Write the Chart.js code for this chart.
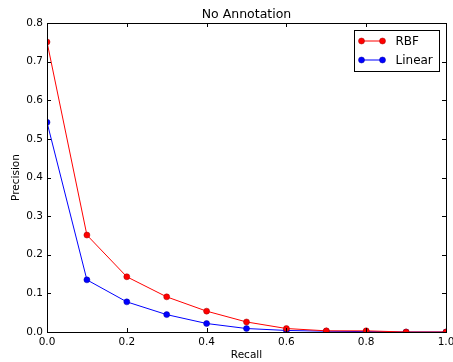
<!DOCTYPE html>
<html>
<head>
<meta charset="utf-8">
<script src="https://cdn.jsdelivr.net/npm/chart.js@4/dist/chart.umd.min.js"></script>
<style>
  html, body { margin: 0; padding: 0; background: #fff; }
  canvas { display: block; }
</style>
</head>
<body>
<canvas id="prChart" width="453" height="362"></canvas>
<script>
// ==================== DATA ====================
const recall = [0.0, 0.1, 0.2, 0.3, 0.4, 0.5, 0.6, 0.7, 0.8, 0.9, 1.0];
const rbfPrecision = [0.751, 0.251, 0.143, 0.091, 0.054, 0.026, 0.009, 0.003, 0.003, 0.0, 0.0];
const linearPrecision = [0.543, 0.135, 0.078, 0.045, 0.022, 0.009, 0.004, 0.002, 0.001, 0.0, 0.0];
const xTicks = [0.0, 0.2, 0.4, 0.6, 0.8, 1.0];
const yTicks = [0.0, 0.1, 0.2, 0.3, 0.4, 0.5, 0.6, 0.7, 0.8];
const seriesLabels = ['RBF', 'Linear'];
const seriesColors = ['#ff0000', '#0000ff'];
const markerEdges = ['#a00000', '#0000a0'];
const chartTitle = 'No Annotation';

const FONT = "'DejaVu Sans', sans-serif";

// matplotlib-ish frame, inward ticks on all four sides, title and legend
const mplFrame = {
  id: 'mplFrame',
  afterDatasetsDraw(chart) {
    const { ctx, chartArea: a, scales } = chart;
    const tick = 4;
    ctx.save();
    ctx.strokeStyle = '#000';
    ctx.lineWidth = 1;
    ctx.beginPath();
    xTicks.forEach(v => {
      const x = Math.round(scales.x.getPixelForValue(v)) + 0.5;
      ctx.moveTo(x, a.bottom); ctx.lineTo(x, a.bottom - tick);
      ctx.moveTo(x, a.top); ctx.lineTo(x, a.top + tick);
    });
    yTicks.forEach(v => {
      const y = Math.round(scales.y.getPixelForValue(v)) + 0.5;
      ctx.moveTo(a.left, y); ctx.lineTo(a.left + tick, y);
      ctx.moveTo(a.right, y); ctx.lineTo(a.right - tick, y);
    });
    ctx.stroke();
    ctx.strokeRect(Math.round(a.left) + 0.5, Math.round(a.top) + 0.5,
      Math.round(a.right - a.left), Math.round(a.bottom - a.top));

    // title
    ctx.fillStyle = '#000';
    ctx.font = `12.5px ${FONT}`;
    ctx.textAlign = 'center';
    ctx.textBaseline = 'middle';
    ctx.fillText(chartTitle, (a.left + a.right) / 2, 15);

    // legend
    const bw = 85, bh = 41;
    const bx = Math.round(a.right - 7 - bw) + 0.5, by = Math.round(a.top + 7) + 0.5;
    ctx.fillStyle = '#fff';
    ctx.fillRect(bx, by, bw, bh);
    ctx.strokeRect(bx, by, bw, bh);
    seriesLabels.forEach((lbl, i) => {
      const ry = by + 10.5 + i * 19;
      ctx.strokeStyle = seriesColors[i];
      ctx.beginPath();
      ctx.moveTo(bx + 7, ry); ctx.lineTo(bx + 28, ry);
      ctx.stroke();
      [bx + 7, bx + 28].forEach(px => {
        ctx.beginPath();
        ctx.arc(px, ry, 3, 0, Math.PI * 2);
        ctx.fillStyle = seriesColors[i];
        ctx.fill();
        ctx.lineWidth = 0.5;
        ctx.strokeStyle = markerEdges[i];
        ctx.stroke();
        ctx.lineWidth = 1;
      });
      ctx.fillStyle = '#000';
      ctx.font = `12px ${FONT}`;
      ctx.textAlign = 'left';
      ctx.fillText(lbl, bx + 41, ry + 0.5);
    });
    ctx.restore();
  }
};

const ctx = document.getElementById('prChart').getContext('2d');
new Chart(ctx, {
  type: 'line',
  data: {
    datasets: [rbfPrecision, linearPrecision].map((vals, i) => ({
      label: seriesLabels[i],
      data: recall.map((r, j) => ({ x: r, y: vals[j] })),
      borderColor: seriesColors[i],
      backgroundColor: seriesColors[i],
      borderWidth: 1,
      pointRadius: 3,
      pointBorderWidth: 0.5,
      pointBorderColor: markerEdges[i],
      pointBackgroundColor: seriesColors[i],
      tension: 0,
      fill: false,
      clip: 0
    }))
  },
  options: {
    responsive: false,
    animation: false,
    layout: { padding: { top: 23, right: 7, left: 0, bottom: 0 } },
    plugins: {
      legend: { display: false },
      title: { display: false },
      tooltip: { enabled: false }
    },
    scales: {
      x: {
        type: 'linear',
        min: 0, max: 1,
        afterBuildTicks: s => { s.ticks = xTicks.map(v => ({ value: v })); },
        afterFit: s => { s.height = 30; s.paddingLeft = 0; s.paddingRight = 0; },
        grid: { display: false, drawTicks: false },
        border: { display: false },
        ticks: {
          color: '#000', padding: 4, maxRotation: 0, autoSkip: false,
          font: { family: FONT, size: 10.5 },
          callback: v => v.toFixed(1)
        },
        title: {
          display: true, text: 'Recall', color: '#000',
          font: { family: FONT, size: 10.5 }, padding: { top: 0, bottom: 0 }
        }
      },
      y: {
        type: 'linear',
        min: 0, max: 0.8,
        afterBuildTicks: s => { s.ticks = yTicks.map(v => ({ value: v })); },
        afterFit: s => { s.width = 47; s.paddingTop = 0; s.paddingBottom = 0; },
        grid: { display: false, drawTicks: false },
        border: { display: false },
        ticks: {
          color: '#000', padding: 4, autoSkip: false,
          font: { family: FONT, size: 10.5 },
          callback: v => v.toFixed(1)
        },
        title: {
          display: true, text: 'Precision', color: '#000',
          font: { family: FONT, size: 10.5 }, padding: { top: 10, bottom: 0 }
        }
      }
    }
  },
  plugins: [mplFrame]
});
</script>
</body>
</html>
